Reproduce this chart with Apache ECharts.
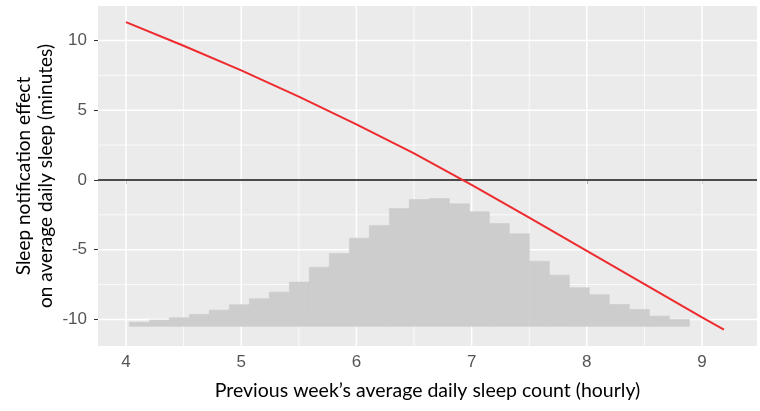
<!DOCTYPE html>
<html>
<head>
<meta charset="utf-8">
<script src="https://cdn.jsdelivr.net/npm/echarts@6/dist/echarts.min.js"></script>
<style>
html,body{margin:0;padding:0;background:#fff;}
#chart{width:760px;height:411px;}
</style>
</head>
<body>
<div id="chart"></div>
<script>
// ---- data ----
const xTicks = [4, 5, 6, 7, 8, 9];
const xMinorGrid = [4.5, 5.5, 6.5, 7.5, 8.5];
const yTicks = [-10, -5, 0, 5, 10];
const yMinorGrid = [-7.5, -2.5, 2.5, 7.5];
const xRange = [3.757, 9.477];
const yRange = [-11.9, 12.47];

// histogram of previous-week sleep (drawn in effect-axis units)
const binEdges = [4.029, 4.203, 4.376, 4.550, 4.723, 4.897, 5.071, 5.244, 5.418, 5.591,
  5.765, 5.939, 6.112, 6.286, 6.459, 6.633, 6.807, 6.980, 7.154, 7.327,
  7.501, 7.675, 7.848, 8.022, 8.195, 8.369, 8.543, 8.716, 8.890];
const binTops = [-10.19, -10.04, -9.87, -9.63, -9.33, -8.94, -8.51, -8.04, -7.32, -6.25,
  -5.27, -4.17, -3.26, -2.05, -1.40, -1.33, -1.71, -2.28, -3.12, -3.86,
  -5.82, -6.82, -7.72, -8.22, -8.92, -9.28, -9.76, -9.99];
const histBase = -10.49;

// estimated effect curve
const curveX = [4.0, 4.5, 5.0, 5.5, 6.0, 6.5, 7.0, 7.5, 8.0, 8.5, 9.0, 9.19];
const curveY = [11.31, 9.62, 7.86, 5.97, 3.99, 1.90, -0.35, -2.70, -5.08, -7.47, -9.85, -10.72];

const zeroLine = [0];

// ---- chart ----
const chart = echarts.init(document.getElementById('chart'), null, {renderer: 'canvas'});

function vLines(values, color, width) {
  return {
    type: 'custom', silent: true, clip: true, z: 1,
    data: values.map(v => [v, 0]),
    encode: {x: 0, y: 1},
    renderItem: function (params, api) {
      const v = api.value(0);
      const a = api.coord([v, yRange[0]]);
      const b = api.coord([v, yRange[1]]);
      return {type: 'line', shape: {x1: a[0], y1: a[1], x2: b[0], y2: b[1]},
        style: {stroke: color, lineWidth: width}};
    }
  };
}
function hLines(values, color, width, z) {
  return {
    type: 'custom', silent: true, clip: true, z: z || 1,
    data: values.map(v => [xRange[0], v]),
    encode: {x: 0, y: 1},
    renderItem: function (params, api) {
      const v = api.value(1);
      const a = api.coord([xRange[0], v]);
      const b = api.coord([xRange[1], v]);
      return {type: 'line', shape: {x1: a[0], y1: a[1], x2: b[0], y2: b[1]},
        style: {stroke: color, lineWidth: width}};
    }
  };
}

const histData = binTops.map((t, i) => [binEdges[i], binEdges[i + 1], t]);
const tickFont = {color: '#555555', fontSize: 17, fontFamily: 'Liberation Sans'};

chart.setOption({
  animation: false,
  backgroundColor: '#ffffff',
  grid: {left: 98, right: 3, top: 6, bottom: 65, show: true,
    backgroundColor: '#EBEBEB', borderWidth: 0},
  xAxis: {
    type: 'value', min: xRange[0], max: xRange[1],
    axisLine: {show: false},
    splitLine: {show: false},
    axisTick: {show: true, customValues: xTicks, length: 4,
      lineStyle: {color: '#333333', width: 1}},
    axisLabel: Object.assign({customValues: xTicks, margin: 8}, tickFont),
    name: 'Previous week\u2019s average daily sleep count (hourly)',
    nameLocation: 'middle', nameGap: 35,
    nameTextStyle: {color: '#000', fontSize: 19.5, fontFamily: 'Lato'}
  },
  yAxis: {
    type: 'value', min: yRange[0], max: yRange[1],
    axisLine: {show: false},
    splitLine: {show: false},
    axisTick: {show: true, customValues: yTicks, length: 4,
      lineStyle: {color: '#333333', width: 1}},
    axisLabel: Object.assign({customValues: yTicks, margin: 11}, tickFont),
    name: 'Sleep notification effect\non average daily sleep (minutes)',
    nameLocation: 'middle', nameGap: 41, nameRotate: 90, nameMoveOverlap: false,
    nameTextStyle: {color: '#000', fontSize: 19, fontFamily: 'Lato', lineHeight: 22}
  },
  series: [
    vLines(xMinorGrid, '#FFFFFF', 0.8),
    hLines(yMinorGrid, '#FFFFFF', 0.8),
    vLines(xTicks, '#FFFFFF', 1.5),
    hLines(yTicks, '#FFFFFF', 1.5),
    {
      type: 'custom', silent: true, clip: true, z: 2,
      data: histData,
      encode: {x: [0, 1], y: 2},
      renderItem: function (params, api) {
        const p0 = api.coord([api.value(0), histBase]);
        const p1 = api.coord([api.value(1), api.value(2)]);
        return {type: 'rect',
          shape: {x: p0[0], y: p1[1], width: p1[0] - p0[0], height: p0[1] - p1[1]},
          style: {fill: '#CDCDCD', stroke: '#CDCDCD', lineWidth: 0.6}};
      }
    },
    hLines(zeroLine, '#111111', 1.4, 3),
    {
      type: 'line', z: 4, silent: true,
      data: curveX.map((x, i) => [x, curveY[i]]),
      showSymbol: false, symbol: 'none', smooth: false,
      lineStyle: {color: '#EE2B2F', width: 2}
    }
  ]
});
</script>
</body>
</html>
